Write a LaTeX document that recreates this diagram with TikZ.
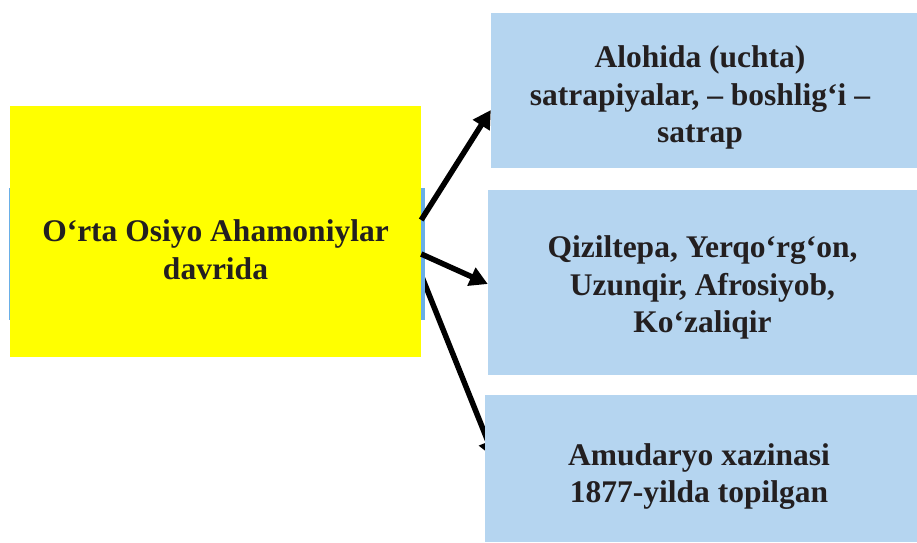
\documentclass[tikz,border=0pt]{standalone}
\usepackage{fontspec}
\setmainfont{Liberation Serif}
\usetikzlibrary{arrows.meta,backgrounds}
\definecolor{boxblue}{HTML}{B5D5F0}
\definecolor{stripblue}{HTML}{6AAFE6}
\definecolor{pureyellow}{HTML}{FFFF00}
\definecolor{txt}{HTML}{231F20}
\begin{document}
\begin{tikzpicture}[x=1pt,y=-1pt,
  lbl/.style={font=\fontsize{31.5}{37.5}\selectfont\bfseries, text=txt, align=center, inner sep=0pt},
  panel/.style={draw=none, rectangle, inner sep=0pt},
  arr/.style={line width=5.5pt, -{Triangle[length=18pt,width=19pt]}, draw=black}]
\useasboundingbox (0,0) rectangle (917,542);
\node[panel, fill=stripblue, minimum width=416pt, minimum height=132pt] (strip) at (217,254) {};
\node[panel, fill=pureyellow, minimum width=411pt, minimum height=251pt] (yl) at (215.5,231.5) {};
\node[panel, fill=boxblue, minimum width=426pt, minimum height=155pt] (b1) at (704,90.5) {};
\node[panel, fill=boxblue, minimum width=429pt, minimum height=185pt] (b2) at (702.5,282.5) {};
\node[panel, fill=boxblue, minimum width=432pt, minimum height=147pt] (b3) at (701,468.5) {};
\node[lbl] (ty) at ([yshift=-18pt]yl.center) {O‘rta Osiyo Ahamoniylar\\davrida};
\node[lbl] (t1) at ([yshift=-7pt,xshift=-4pt]b1.center) {Alohida (uchta)\\satrapiyalar, – boshlig‘i –\\satrap};
\node[lbl] (t2) at ([yshift=-5pt]b2.center) {Qiziltepa, Yerqo‘rg‘on,\\Uzunqir, Afrosiyob,\\Ko‘zaliqir};
\node[lbl] (t3) at ([yshift=-8pt,xshift=-2pt]b3.center) {Amudaryo xazinasi\\1877-yilda topilgan};
\draw[arr] ([yshift=11.5pt]yl.east) -- ([yshift=-19.5pt]b1.west);
\draw[arr] ([yshift=-22.5pt]yl.east) -- ([yshift=-1.5pt]b2.west);
\begin{pgfonlayer}{background}
\draw[arr] ([yshift=-43.5pt]yl.east) -- ([yshift=10pt,xshift=10pt]b3.west);
\end{pgfonlayer}
\end{tikzpicture}
\end{document}
